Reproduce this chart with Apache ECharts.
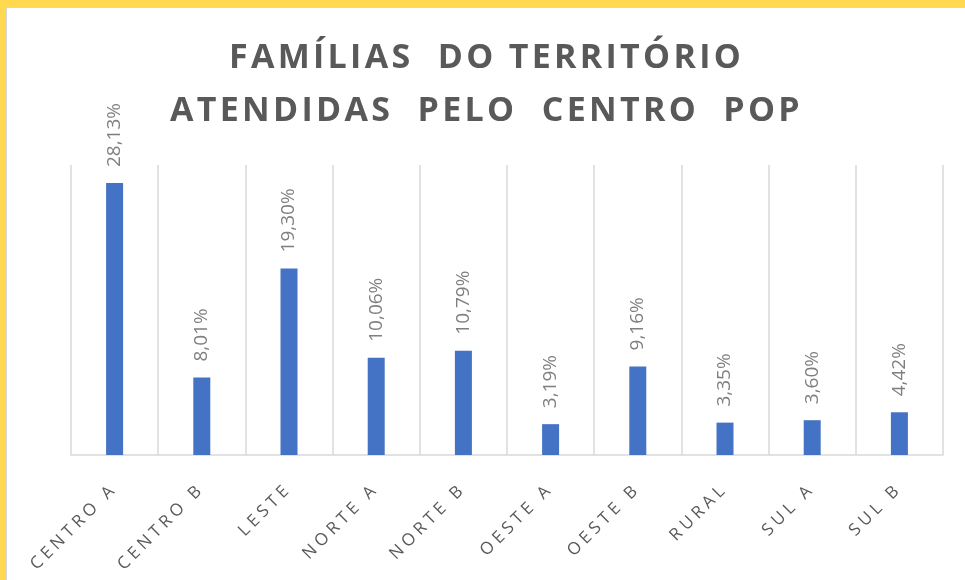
<!DOCTYPE html>
<html>
<head>
<meta charset="utf-8">
<script src="https://cdn.jsdelivr.net/npm/echarts@6/dist/echarts.min.js"></script>
<style>
  html, body { margin: 0; padding: 0; background: #ffd950; }
  #box {
    position: absolute; left: 6px; top: 7px; width: 959px; height: 573px;
    background: #fff; border-left: 1px solid #d6d6e0; border-top: 1px solid #d6d6e0;
  }
  #chart { width: 100%; height: 100%; }
</style>
</head>
<body>
<div id="box"><div id="chart"></div></div>
<script>
  // regiões do território
  const categorias = ['CENTRO A', 'CENTRO B', 'LESTE', 'NORTE A', 'NORTE B', 'OESTE A', 'OESTE B', 'RURAL', 'SUL A', 'SUL B']
  // percentual de famílias atendidas
  const valores = [28.13, 8.01, 19.30, 10.06, 10.79, 3.19, 9.16, 3.35, 3.60, 4.42]
  const titulo = 'FAMÍLIAS  DO TERRITÓRIO\nATENDIDAS  PELO  CENTRO  POP'

  // espaçamento entre letras (título e eixo), o echarts não tem essa opção
  const espacos = { '34px': '3.3px', '17px': '4.2px' }
  const fillTextOrig = CanvasRenderingContext2D.prototype.fillText
  CanvasRenderingContext2D.prototype.fillText = function (t, x, y, w) {
    const m = /(\d+px)/.exec(this.font)
    this.letterSpacing = (m && espacos[m[1]]) || '0px'
    return w === undefined ? fillTextOrig.call(this, t, x, y) : fillTextOrig.call(this, t, x, y, w)
  }

  const myChart = echarts.init(document.getElementById('chart'))
  myChart.setOption({
    animation: false,
    title: {
      text: titulo,
      left: 'center',
      top: 24,
      padding: 0,
      textStyle: {
        fontFamily: 'Open Sans',
        fontWeight: 'bold',
        fontSize: 34,
        lineHeight: 53,
        color: '#595959'
      }
    },
    grid: { left: 64, right: 23, top: 157, bottom: 126 },
    xAxis: {
      type: 'category',
      data: categorias,
      axisTick: { show: false },
      axisLine: { lineStyle: { color: '#d9d9d9', width: 1.5 } },
      splitLine: { show: true, interval: 0, lineStyle: { color: '#d9d9d9', width: 1.5 } },
      axisLabel: {
        interval: 0,
        rotate: 45,
        margin: 31,
        fontFamily: 'Open Sans',
        fontSize: 17,
        color: '#595959'
      }
    },
    yAxis: {
      type: 'value',
      min: 0,
      max: 30,
      show: false
    },
    series: [{
      type: 'bar',
      data: valores,
      barWidth: 17,
      itemStyle: { color: '#4472c4' },
      label: {
        show: true,
        position: 'top',
        rotate: 90,
        align: 'left',
        verticalAlign: 'middle',
        distance: 16,
        fontFamily: 'Open Sans',
        fontSize: 19,
        color: '#7f7f7f',
        formatter: p => p.value.toFixed(2).replace('.', ',') + '%'
      }
    }]
  })
</script>
</body>
</html>
